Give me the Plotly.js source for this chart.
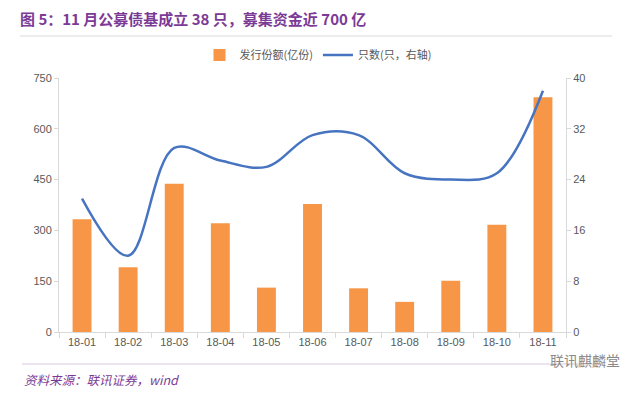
<!DOCTYPE html>
<html><head><meta charset="utf-8">
<script src="https://cdn.plot.ly/plotly-3.0.1.min.js"></script>
<style>html,body{margin:0;padding:0;background:#fff}#c{width:631px;height:397px}</style>
</head><body><div id="c"></div>
<script>
const months = ["18-01","18-02","18-03","18-04","18-05","18-06","18-07","18-08","18-09","18-10","18-11"];
const issueAmount = [333, 191, 438, 321, 131, 378, 129, 89, 151, 317, 693];
const fundCount = [21, 12, 29, 27, 26, 31, 31, 25, 24, 25, 38];
const leftTicks = [0, 150, 300, 450, 600, 750];
const rightTicks = [0, 8, 16, 24, 32, 40];

const L=59, R=566, T=78, B=332;
const px = x => (x-L)/(R-L);
const py = y => (B-y)/(B-T);
const tickFont = {family:"Liberation Sans, Arial, sans-serif", size:11, color:"#595959"};

const traces = [
  {type:"bar", x:months, y:issueAmount, name:"发行份额(亿份)", marker:{color:"#F79646"}, width:0.41, yaxis:"y"},
  {type:"scatter", mode:"lines", x:months, y:fundCount, name:"只数(只，右轴)", yaxis:"y2",
   line:{color:"#4674C1", width:2.5, shape:"spline", smoothing:1}}
];
const layout = {
  width:631, height:397,
  margin:{l:L, r:631-R, t:T, b:397-B},
  paper_bgcolor:"#fff", plot_bgcolor:"#fff",
  showlegend:true,
  legend:{orientation:"h", x:px(318), xanchor:"center", y:py(55), yanchor:"middle",
    font:{family:"Noto Sans CJK SC", size:11, color:"#595959"}, traceorder:"normal", itemwidth:30},
  bargap:0.59,
  xaxis:{type:"category", tickfont:tickFont, showline:true, linecolor:"#D9D9D9", linewidth:1,
    ticks:"outside", tickson:"boundaries", ticklen:5, tickcolor:"#D9D9D9", showgrid:false, zeroline:false},
  yaxis:{range:[0,750], tickvals:leftTicks, tickfont:tickFont, showline:true, linecolor:"#D9D9D9",
    ticks:"outside", ticklen:4, tickcolor:"#D9D9D9", showgrid:false, zeroline:false, fixedrange:true},
  yaxis2:{range:[0,40], tickvals:rightTicks, overlaying:"y", side:"right", tickfont:tickFont, showline:true,
    linecolor:"#D9D9D9", ticks:"outside", ticklen:4, tickcolor:"#D9D9D9", showgrid:false, zeroline:false},
  title:{text:"<b>图 5：11 月公募债基成立 38 只，募集资金近 700 亿</b>", x:20/631, xanchor:"left",
    xref:"container", yref:"container", y:1-20/397, yanchor:"middle",
    font:{family:"Noto Sans CJK SC", size:15, color:"#7B3A96"}},
  shapes:[
    {type:"line", xref:"paper", yref:"paper", x0:px(20), x1:px(612), y0:py(36), y1:py(36), line:{color:"#D9D9D9", width:1}},
    {type:"line", xref:"paper", yref:"paper", x0:px(22), x1:px(600), y0:py(364), y1:py(364), line:{color:"#D9C9E0", width:1}}
  ],
  annotations:[
    {xref:"paper", yref:"paper", x:px(22), y:py(379), xanchor:"left", yanchor:"middle", showarrow:false,
     text:"<i>资料来源：联讯证券，wind</i>", font:{family:"Noto Sans CJK SC", size:12.5, color:"#7B3A96"}},
    {xref:"paper", yref:"paper", x:px(622), y:py(360), xanchor:"right", yanchor:"middle", showarrow:false,
     text:"联讯麒麟堂", font:{family:"Noto Sans CJK SC", size:14, color:"#8a8a8a"}}
  ]
};
Plotly.newPlot("c", traces, layout, {displayModeBar:false, staticPlot:true});
</script></body></html>
